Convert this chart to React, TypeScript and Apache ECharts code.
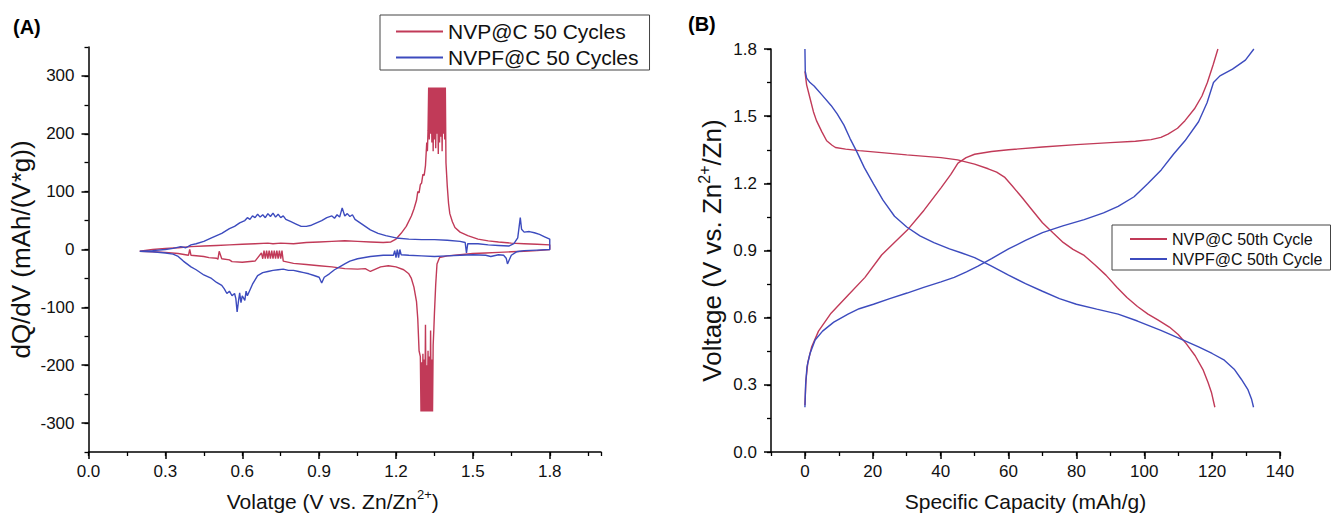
import React, { useEffect, useRef } from "react";
import * as echarts from "echarts";

// ---------- Panel A : dQ/dV vs voltage (loops: charge then discharge) ----------
const nvpA_V = [
  // charge (positive branch)
  0.20, 0.25, 0.30, 0.35, 0.40, 0.45, 0.50, 0.55, 0.60, 0.65, 0.70, 0.72, 0.75, 0.80, 0.85, 0.90, 0.95, 1.00, 1.05, 1.10,
  1.15, 1.18, 1.20, 1.22, 1.24, 1.26, 1.27, 1.28, 1.285, 1.29, 1.295, 1.30, 1.305, 1.31, 1.315, 1.32, 1.3225, 1.325,
  1.3275, 1.33, 1.3325, 1.335, 1.3375, 1.34, 1.3425, 1.345, 1.3475, 1.35, 1.3525, 1.355, 1.3575, 1.36, 1.3625, 1.365,
  1.3675, 1.37, 1.3725, 1.375, 1.3775, 1.38, 1.3825, 1.385, 1.3875, 1.39, 1.3925,
  1.395, 1.40, 1.405, 1.41, 1.42, 1.43, 1.45, 1.48, 1.52, 1.56, 1.60, 1.65, 1.70, 1.75, 1.80,
  // discharge (negative branch)
  1.80, 1.75, 1.70, 1.65, 1.60, 1.55, 1.50, 1.45, 1.40, 1.37, 1.36, 1.355, 1.35, 1.3475, 1.345,
  1.3425, 1.34, 1.3375, 1.335, 1.3325, 1.33, 1.3275, 1.325, 1.3225, 1.32, 1.3175, 1.315, 1.3125, 1.31, 1.3075, 1.305,
  1.3025, 1.30, 1.2975,
  1.295, 1.29, 1.285, 1.28, 1.27, 1.26, 1.25, 1.23, 1.20, 1.17, 1.14, 1.10, 1.08, 1.05, 1.00, 0.95, 0.90, 0.85, 0.80, 0.76,
  0.755, 0.75, 0.745, 0.74, 0.735, 0.73, 0.725, 0.72, 0.715, 0.71, 0.705, 0.70, 0.695, 0.69, 0.685, 0.68, 0.675,
  0.65, 0.60, 0.56, 0.55, 0.52, 0.51, 0.505, 0.50, 0.47, 0.45, 0.40, 0.395, 0.39, 0.35, 0.30, 0.25, 0.20,
];
const nvpA_dQ = [
  -3, 0, 2, 3, 5, 6, 7, 8, 9, 10, 11, 10, 11, 10, 12, 13, 14, 15, 14, 13,
  12, 13, 18, 28, 40, 58, 70, 85, 100, 98, 112, 115, 130, 128, 145, 185, 170, 205,
  280, 190, 280, 200, 280, 185, 280, 170, 280, 190, 280, 175, 280, 200, 280, 165,
  280, 185, 280, 195, 280, 170, 280, 200, 280, 190, 280,
  150, 110, 80, 62, 48, 38, 30, 24, 18, 15, 13, 11, 10, 9, 8,
  0, -2, -3, -4, -5, -6, -7, -9, -11, -14, -25, -60, -110, -140, -165,
  -280, -190, -280, -140, -280, -185, -280, -175, -280, -200, -280, -130, -280, -190, -280, -180,
  -280, -195, -280,
  -185, -175, -120, -90, -65, -50, -42, -35, -30, -28, -30, -38, -33, -34, -33, -30, -28, -26, -24, -20,
  -2, -16, -2, -16, -2, -16, -2, -16, -2, -16, -2, -16, -2, -16, -2, -16, -6,
  -20, -22, -21, -18, -16, -3, -17, -15, -14, -12, -10, 0, -10, -7, -5, -4, -3,
];

const nvpfA_V = [
  0.20, 0.25, 0.30, 0.33, 0.36, 0.38, 0.40, 0.42, 0.45, 0.48, 0.50, 0.52, 0.55, 0.57, 0.59, 0.61, 0.62, 0.63, 0.64, 0.65,
  0.66, 0.67, 0.68, 0.69, 0.70, 0.71, 0.72, 0.73, 0.74, 0.75, 0.76, 0.77, 0.79, 0.81, 0.83, 0.85, 0.87, 0.89, 0.91, 0.93,
  0.95, 0.96, 0.97, 0.98, 0.99, 1.00, 1.01, 1.02, 1.03, 1.04, 1.06, 1.08, 1.10, 1.13, 1.16, 1.20, 1.25, 1.30, 1.35, 1.40,
  1.45, 1.47, 1.475, 1.48, 1.52, 1.56, 1.60, 1.64, 1.66, 1.675, 1.685, 1.69, 1.70, 1.72, 1.74, 1.76, 1.78, 1.80,
  1.80, 1.75, 1.70, 1.67, 1.65, 1.64, 1.635, 1.63, 1.62, 1.60, 1.57, 1.55, 1.50, 1.45, 1.40, 1.35, 1.30, 1.25, 1.22, 1.215,
  1.21, 1.205, 1.20, 1.195, 1.19, 1.15, 1.10, 1.05, 1.02, 1.00, 0.98, 0.96, 0.94, 0.92, 0.91, 0.90, 0.88, 0.86, 0.84, 0.82,
  0.80, 0.78, 0.76, 0.74, 0.72, 0.70, 0.68, 0.66, 0.64, 0.63, 0.62, 0.615, 0.61, 0.60, 0.595, 0.59, 0.585, 0.58, 0.575, 0.57,
  0.56, 0.55, 0.54, 0.53, 0.52, 0.50, 0.48, 0.45, 0.42, 0.40, 0.37, 0.35, 0.33, 0.30, 0.25, 0.20,
];
const nvpfA_dQ = [
  -3, -2, 0, 2, 5, 3, 8, 10, 14, 20, 24, 28, 36, 40, 46, 50, 55, 52, 58, 55,
  61, 56, 60, 55, 62, 57, 63, 56, 61, 55, 58, 52, 48, 44, 40, 40, 42, 46, 50, 55,
  58, 54, 60, 56, 72, 58, 62, 57, 60, 52, 46, 40, 34, 28, 24, 20, 18, 17, 17, 16,
  14, 12, -6, 10, 10, 8, 7, 6, 10, 20, 55, 35, 30, 31, 29, 26, 22, 18,
  0, -1, -2, -4, -10, -20, -25, -15, -10, -9, -12, -10, -9, -10, -11, -12, -11, -10, -9, 0,
  -14, 0, -14, -2, -10, -10, -12, -16, -20, -25, -30, -35, -42, -48, -58, -48, -45, -42, -40, -38,
  -36, -36, -34, -35, -36, -38, -40, -45, -60, -70, -80, -72, -88, -80, -92, -75, -90, -108, -85, -76,
  -80, -72, -76, -68, -62, -57, -50, -44, -35, -30, -20, -12, -8, -6, -4, -3,
];

// ---------- Panel B : voltage profiles (capacity mAh/g, voltage V) ----------
const nvpChargeCap = [0, 0.3, 0.85, 2, 4, 7.7, 12.7, 17.7, 22.6, 26, 30.1, 35.1, 40.1, 43, 45.1, 47.5, 50, 55, 60, 70, 80, 90, 97.4, 102, 104.9, 107, 109.8, 112, 114.8, 117, 118.6, 120.3, 121.7];
const nvpChargeV = [0.21, 0.32, 0.40, 0.47, 0.54, 0.62, 0.70, 0.78, 0.88, 0.93, 0.99, 1.08, 1.18, 1.24, 1.29, 1.315, 1.33, 1.342, 1.35, 1.362, 1.373, 1.382, 1.388, 1.395, 1.405, 1.42, 1.446, 1.48, 1.533, 1.59, 1.65, 1.73, 1.80];
const nvpDischargeCap = [0, 0.5, 1.5, 2.5, 3.4, 5, 6.4, 8, 9, 12, 16, 22.6, 30, 40.1, 45, 50, 54, 56.5, 58.8, 61, 63.8, 67, 70, 73, 76.1, 79, 82.3, 85.5, 88.7, 92, 94.9, 98, 101.1, 104, 107.4, 110, 112.3, 115, 117.3, 118.8, 119.8, 120.8];
const nvpDischargeV = [1.70, 1.64, 1.58, 1.52, 1.48, 1.43, 1.39, 1.37, 1.36, 1.353, 1.346, 1.337, 1.327, 1.315, 1.305, 1.286, 1.265, 1.25, 1.228, 1.19, 1.14, 1.08, 1.024, 0.98, 0.936, 0.905, 0.878, 0.835, 0.79, 0.735, 0.69, 0.65, 0.616, 0.59, 0.558, 0.525, 0.485, 0.43, 0.368, 0.31, 0.266, 0.20];
const nvpfChargeCap = [0, 0.2, 0.6, 1.5, 3, 5.2, 8.5, 12.7, 16, 20.2, 25, 30.1, 35, 40.1, 44, 47.6, 51, 55, 60, 65, 70, 76, 82.3, 88, 92.3, 97, 101, 105, 108.6, 112, 116, 118.5, 120.4, 122.3, 126, 129.8, 132.3];
const nvpfChargeV = [0.2, 0.3, 0.38, 0.44, 0.50, 0.54, 0.58, 0.616, 0.64, 0.66, 0.685, 0.71, 0.735, 0.76, 0.78, 0.805, 0.83, 0.864, 0.907, 0.945, 0.98, 1.01, 1.038, 1.068, 1.097, 1.14, 1.198, 1.26, 1.33, 1.39, 1.475, 1.56, 1.65, 1.68, 1.71, 1.75, 1.80];
const nvpfDischargeCap = [0, 0.1, 0.5, 1.5, 2.7, 5, 7.7, 9.5, 11.5, 13.3, 15.2, 17.5, 20.2, 23, 26.4, 30, 33.9, 38, 42.6, 46, 50, 55, 60, 65, 70, 75, 80, 86, 92.3, 98, 104.9, 110, 116, 120, 123.6, 126.5, 128.6, 130.5, 131.6, 132.2];
const nvpfDischargeV = [1.80, 1.70, 1.67, 1.65, 1.635, 1.595, 1.548, 1.51, 1.46, 1.40, 1.344, 1.27, 1.198, 1.125, 1.053, 1.005, 0.965, 0.935, 0.907, 0.89, 0.868, 0.83, 0.79, 0.752, 0.718, 0.685, 0.66, 0.638, 0.616, 0.585, 0.543, 0.51, 0.47, 0.44, 0.41, 0.37, 0.325, 0.28, 0.237, 0.20];

// ---------- Axis ticks / labels ----------
const aXMajor = [0, 0.3, 0.6, 0.9, 1.2, 1.5, 1.8];
const aYMajor = [-300, -200, -100, 0, 100, 200, 300];
const bXMajor = [0, 20, 40, 60, 80, 100, 120, 140];
const bYMajor = [0, 0.3, 0.6, 0.9, 1.2, 1.5, 1.8];

const legendA = ["NVP@C 50 Cycles", "NVPF@C 50 Cycles"];
const legendB = ["NVP@C 50th Cycle", "NVPF@C 50th Cycle"];

const RED = "#C13A58";
const BLUE = "#3C4BBE";
const FONT = '"Liberation Sans", Arial, Helvetica, sans-serif';
const INK = "#111";

const zip = (a: number[], b: number[]) => a.map((v, i) => [v, b[i]]);

function App() {
  const ref = useRef<HTMLDivElement>(null);
  useEffect(() => {
    if (!ref.current) return;
    const chart = echarts.init(ref.current, undefined, { renderer: "svg" });

    const axisLine = { show: true, onZero: false, lineStyle: { color: "#000", width: 1.5 } };
    const mainAxis = (extra: any, major: number[], fmt: (v: number) => string, isX: boolean) => ({
      type: "value",
      axisLine,
      splitLine: { show: false },
      axisTick: { show: true, length: 7, lineStyle: { color: "#000", width: 1.5 }, customValues: major },
      axisLabel: {
        show: true,
        customValues: major,
        formatter: fmt,
        fontSize: 17,
        color: INK,
        fontFamily: FONT,
        margin: isX ? 11 : 14,
      },
      ...extra,
    });
    const minorAxis = (extra: any) => ({
      type: "value",
      axisLine: { show: false, onZero: false },
      splitLine: { show: false },
      axisTick: { show: true, length: 4, lineStyle: { color: "#000", width: 1.3 } },
      axisLabel: { show: false },
      ...extra,
    });

    const nameStyle = (size: number, sup: number) => ({
      fontSize: size,
      color: INK,
      fontFamily: FONT,
      lineHeight: size + 5,
      rich: {
        sup: { fontSize: sup, lineHeight: sup, verticalAlign: "top", color: INK, fontFamily: FONT },
      },
    });

    const lineSeries = (name: string, color: string, data: number[][], xi: number, yi: number) => ({
      type: "line",
      name,
      data,
      xAxisIndex: xi,
      yAxisIndex: yi,
      showSymbol: false,
      symbol: "none",
      color,
      itemStyle: { color },
      lineStyle: { color, width: 1.4 },
      clip: false,
    });

    chart.setOption({
      animation: false,
      backgroundColor: "#fff",
      grid: [
        { left: 88.5, top: 47, width: 512.5, height: 414, containLabel: false },
        { left: 771, top: 49, width: 509, height: 412, containLabel: false },
      ],
      xAxis: [
        mainAxis(
          {
            gridIndex: 0, position: "bottom", min: 0, max: 2.0, interval: 0.3,
            name: "Volatge (V vs. Zn/Zn{sup|2+})", nameLocation: "middle", nameGap: 36,
            nameTextStyle: { ...nameStyle(21, 13), padding: [0, 24, 0, 0] },
          },
          aXMajor, (v: number) => v.toFixed(1), true
        ),
        minorAxis({ gridIndex: 0, position: "bottom", min: 0, max: 2.0, interval: 0.15 }),
        mainAxis(
          {
            gridIndex: 1, position: "bottom", min: -10, max: 140, interval: 10,
            name: "Specific Capacity (mAh/g)", nameLocation: "middle", nameGap: 36,
            nameTextStyle: nameStyle(21, 13),
          },
          bXMajor, (v: number) => String(Math.round(v)), true
        ),
        minorAxis({ gridIndex: 1, position: "bottom", min: -10, max: 140, interval: 10 }),
      ],
      yAxis: [
        mainAxis(
          {
            gridIndex: 0, position: "left", min: -350, max: 350, interval: 50,
            name: "dQ/dV (mAh/(V*g))", nameLocation: "middle", nameGap: 48,
            nameTextStyle: nameStyle(26, 16),
          },
          aYMajor, (v: number) => String(Math.round(v)), false
        ),
        minorAxis({ gridIndex: 0, position: "left", min: -350, max: 350, interval: 50 }),
        mainAxis(
          {
            gridIndex: 1, position: "left", min: 0, max: 1.8, interval: 0.3,
            name: "Voltage (V vs. Zn{sup|2+}/Zn)", nameLocation: "middle", nameGap: 44,
            nameTextStyle: nameStyle(26, 16),
          },
          bYMajor, (v: number) => v.toFixed(1), false
        ),
        minorAxis({ gridIndex: 1, position: "left", min: 0, max: 1.8, interval: 0.15 }),
      ],
      legend: [
        {
          left: 380, top: 15, orient: "vertical", data: legendA,
          borderColor: "#444", borderWidth: 1, padding: [6, 11, 2, 16], itemGap: 5,
          itemWidth: 47, itemHeight: 2, icon: "rect",
          textStyle: { fontSize: 21, lineHeight: 21, color: INK, fontFamily: FONT },
        },
        {
          left: 1112, top: 225, orient: "vertical", data: legendB,
          borderColor: "#444", borderWidth: 1, padding: [6, 8, 3, 18], itemGap: 4,
          itemWidth: 37, itemHeight: 2, icon: "rect",
          textStyle: { fontSize: 16, lineHeight: 16, color: INK, fontFamily: FONT },
        },
      ],
      graphic: [
        { type: "text", left: 13, top: 17, style: { text: "(A)", fontSize: 20, fontWeight: "bold", fill: "#000", fontFamily: FONT } },
        { type: "text", left: 688, top: 14, style: { text: "(B)", fontSize: 20, fontWeight: "bold", fill: "#000", fontFamily: FONT } },
      ],
      series: [
        lineSeries(legendA[0], RED, zip(nvpA_V, nvpA_dQ), 0, 0),
        lineSeries(legendA[1], BLUE, zip(nvpfA_V, nvpfA_dQ), 0, 0),
        lineSeries(legendB[0], RED, zip(nvpChargeCap, nvpChargeV), 2, 2),
        lineSeries(legendB[0], RED, zip(nvpDischargeCap, nvpDischargeV), 2, 2),
        lineSeries(legendB[1], BLUE, zip(nvpfChargeCap, nvpfChargeV), 2, 2),
        lineSeries(legendB[1], BLUE, zip(nvpfDischargeCap, nvpfDischargeV), 2, 2),
      ],
    });
    return () => chart.dispose();
  }, []);
  return (
    <div
      ref={ref}
      style={{ position: "fixed", left: 0, top: 0, width: 1333, height: 519, background: "#fff" }}
    />
  );
}

export default App;
